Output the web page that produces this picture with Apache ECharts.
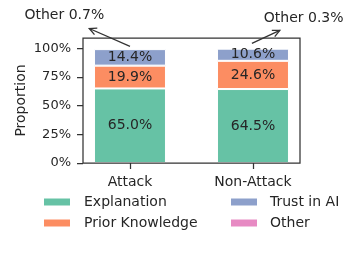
<!DOCTYPE html>
<html><head><meta charset="utf-8">
<script src="https://cdn.jsdelivr.net/npm/echarts@6/dist/echarts.min.js"></script>
<style>html,body{margin:0;padding:0;background:#fff}#c{width:349px;height:262px}</style>
</head><body><div id="c"></div>
<script>
const categories = ['Attack', 'Non-Attack'];
const explanation = [0.650, 0.645];
const priorKnowledge = [0.199, 0.246];
const trustInAI = [0.144, 0.106];
const other = [0.007, 0.003];
const yTicks = [0, 0.25, 0.5, 0.75, 1.0];
const seriesNames = ['Explanation', 'Prior Knowledge', 'Trust in AI', 'Other'];
const colors = ['#66c2a5', '#fc8d62', '#8da0cb', '#e78ac3'];
const FONT = 'DejaVu Sans';
const TXT = '#262626';
const YMAX = 1.09;

const chart = echarts.init(document.getElementById('c'), null, {renderer: 'canvas'});
const allData = [explanation, priorKnowledge, trustInAI, other];

const series = allData.map((vals, si) => ({
  name: seriesNames[si],
  type: 'bar',
  stack: 'total',
  xAxisIndex: 1, yAxisIndex: 1,
  barWidth: '58.5%',
  data: vals,
  itemStyle: {color: colors[si], borderColor: '#fff', borderWidth: 1},
  label: {
    show: si < 3,
    position: 'inside',
    formatter: p => (p.value * 100).toFixed(1) + '%',
    fontFamily: FONT, fontSize: 14, color: TXT
  },
  emphasis: {disabled: true}
}));

chart.setOption({
  animation: false,
  grid: [
    {left: 83, top: 38, right: 49, bottom: 99, show: true, borderColor: '#333', borderWidth: 1.25, backgroundColor: 'transparent', z: 5},
    {left: 68.5, top: 38, right: 34.5, bottom: 99}
  ],
  xAxis: [
    {gridIndex: 0, type: 'category', data: categories, show: false},
    {
      gridIndex: 1, type: 'category', data: categories,
      axisLine: {show: false},
      axisTick: {show: true, alignWithLabel: true, length: 6, lineStyle: {color: '#333', width: 1.25}},
      axisLabel: {fontFamily: FONT, fontSize: 14, color: TXT, margin: 12}
    }
  ],
  yAxis: [
    {
      gridIndex: 0, type: 'value', min: 0, max: YMAX,
      name: 'Proportion', nameLocation: 'middle', nameGap: 55, nameMoveOverlap: false,
      nameTextStyle: {fontFamily: FONT, fontSize: 14, color: TXT},
      splitLine: {show: false},
      axisLine: {show: false},
      axisTick: {show: true, length: 6, customValues: yTicks, lineStyle: {color: '#333', width: 1.25}},
      axisLabel: {customValues: yTicks, formatter: v => Math.round(v * 100) + '%', fontFamily: FONT, fontSize: 13, color: TXT, margin: 12}
    },
    {gridIndex: 1, type: 'value', min: 0, max: YMAX, show: false, splitLine: {show: false}}
  ],
  legend: [
    {orient: 'vertical', left: 42, top: 195, padding: 0, itemWidth: 28, itemHeight: 9, itemGap: 7, icon: 'rect',
     data: ['Explanation', 'Prior Knowledge'], selectedMode: false,
     textStyle: {fontFamily: FONT, fontSize: 14, color: TXT, padding: [0, 0, 0, 8]}},
    {orient: 'vertical', left: 229, top: 195, padding: 0, itemWidth: 28, itemHeight: 9, itemGap: 7, icon: 'rect',
     data: ['Trust in AI', 'Other'], selectedMode: false,
     textStyle: {fontFamily: FONT, fontSize: 14, color: TXT, padding: [0, 0, 0, 7]}}
  ],
  series: series
});

// Annotations for the small "Other" share (arrow from bar top to label)
const annotations = [
  {from: [0, 1.017], to: [-0.331, 1.173], text: [-0.534, 1.286], value: other[0]},
  {from: [0.991, 1.043], to: [1.218, 1.156], text: [1.412, 1.26], value: other[1]}
];
// map category-index x to pixels using the bar grid's category axis
function toPx(pt) {
  const a = chart.convertToPixel({xAxisIndex: 1, yAxisIndex: 1}, [0, pt[1]]);
  const b = chart.convertToPixel({xAxisIndex: 1, yAxisIndex: 1}, [1, pt[1]]);
  return [a[0] + (b[0] - a[0]) * pt[0], a[1]];
}
const g = [];
annotations.forEach(a => {
  const p0 = toPx(a.from), p1 = toPx(a.to), pt = toPx(a.text);
  g.push({type: 'line', shape: {x1: p0[0], y1: p0[1], x2: p1[0], y2: p1[1]}, style: {stroke: '#333', lineWidth: 1.3}});
  const ang = Math.atan2(p1[1] - p0[1], p1[0] - p0[0]);
  const L = 8, w = 0.45;
  const a1 = [p1[0] - L * Math.cos(ang - w), p1[1] - L * Math.sin(ang - w)];
  const a2 = [p1[0] - L * Math.cos(ang + w), p1[1] - L * Math.sin(ang + w)];
  g.push({type: 'polyline', shape: {points: [a1, p1, a2]}, style: {stroke: '#333', lineWidth: 1.3, fill: null}});
  g.push({type: 'text', x: pt[0], y: pt[1], style: {text: 'Other ' + (a.value * 100).toFixed(1) + '%', fontFamily: FONT, fontSize: 14, fill: TXT, align: 'center', verticalAlign: 'middle'}});
});
chart.setOption({graphic: g});
</script>
</body></html>
